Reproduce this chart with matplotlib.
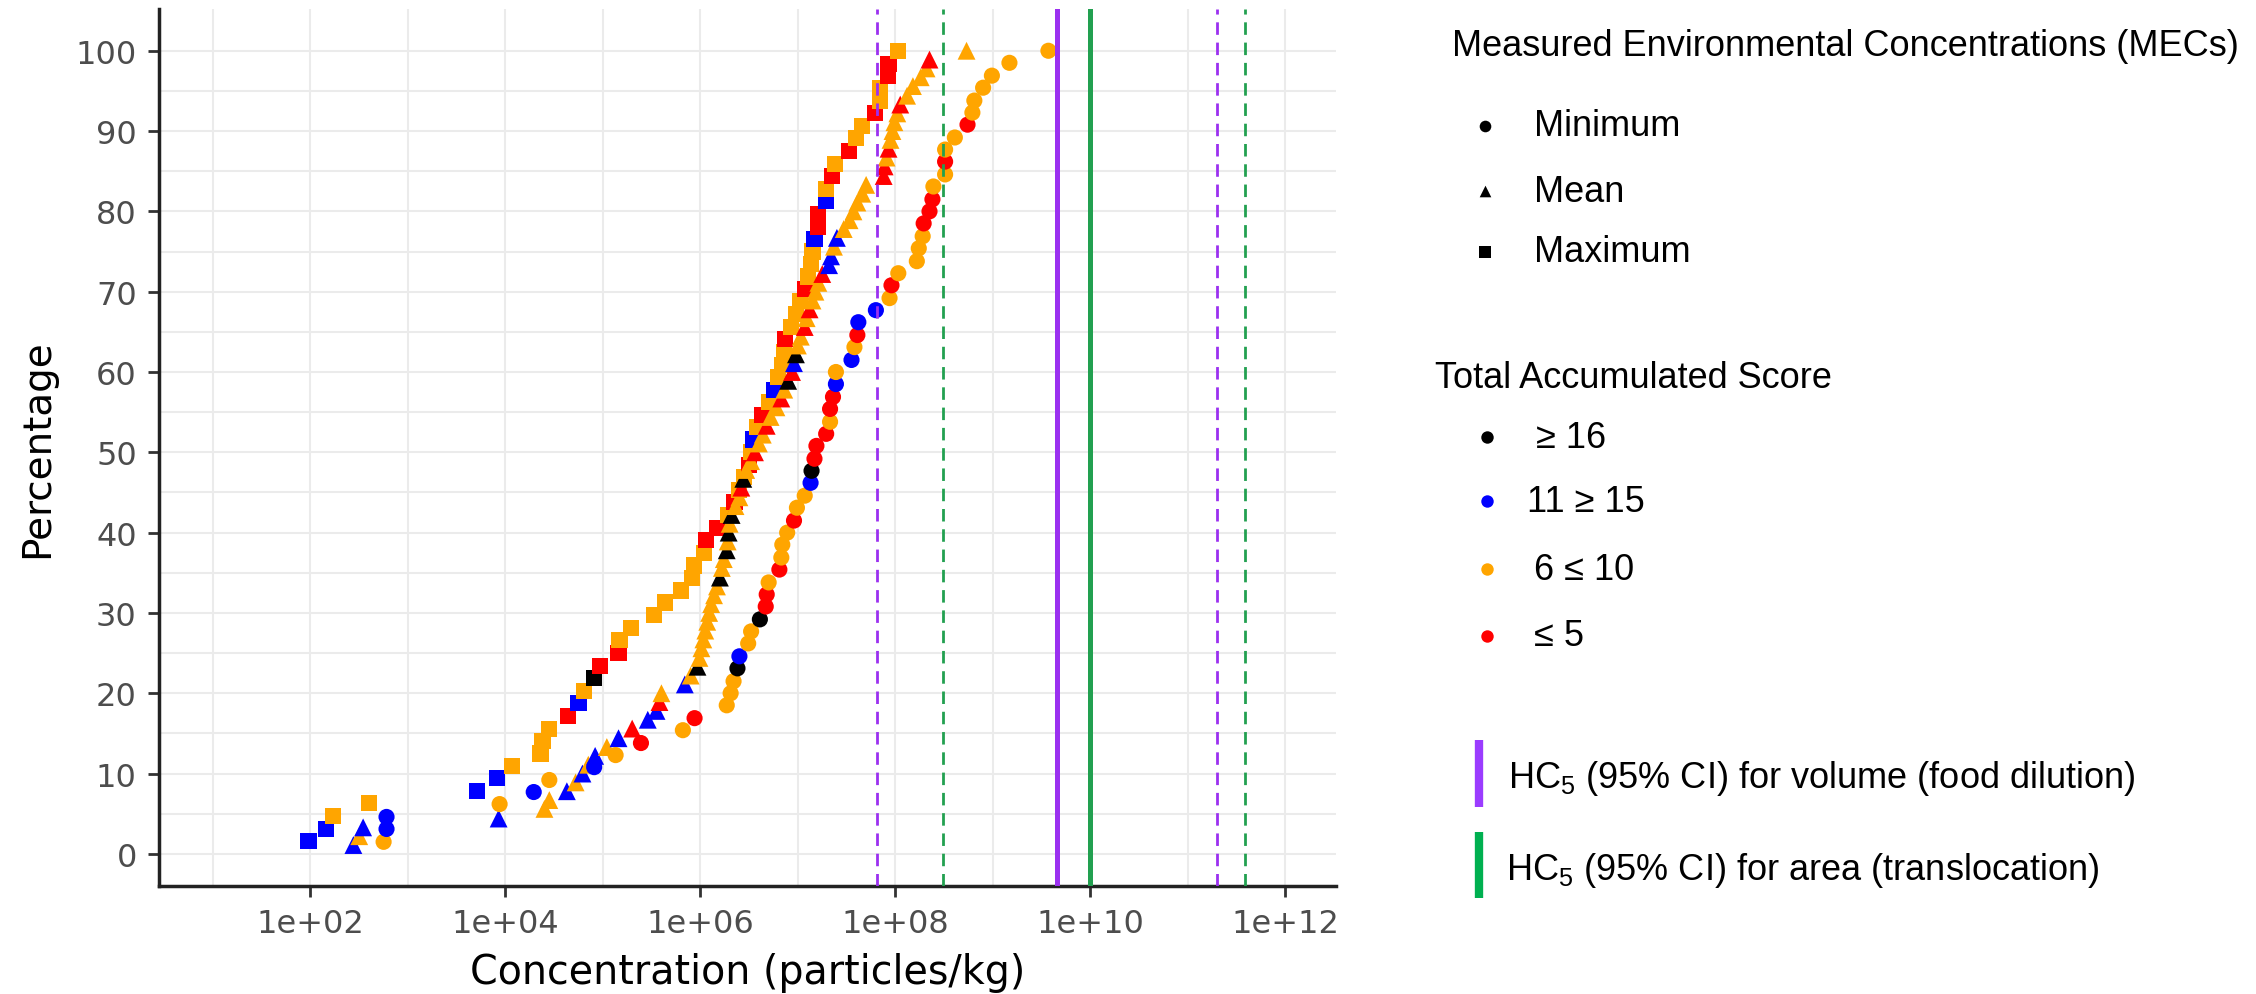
import numpy as np
import matplotlib.pyplot as plt
from matplotlib.ticker import NullFormatter

W, H = 2256, 995
DPI = 100

# score class colours
cls_col = {'k': 'black', 'b': '#0000FF', 'o': '#FFA500', 'r': '#FF0000'}

# Maximum MECs (squares): log10 concentration, cumulative %, score class
max_log = [1.98, 2.16, 2.23, 2.60, 3.71, 3.91, 4.07, 4.36, 4.38, 4.45,
           4.64, 4.75, 4.81, 4.91, 4.97, 5.16, 5.17, 5.29, 5.52, 5.64,
           5.80, 5.91, 5.93, 6.04, 6.06, 6.17, 6.28, 6.35, 6.40, 6.45,
           6.50, 6.52, 6.54, 6.58, 6.63, 6.70, 6.76, 6.80, 6.84, 6.86,
           6.87, 6.93, 6.98, 7.02, 7.07, 7.10, 7.13, 7.15, 7.17, 7.21,
           7.21, 7.29, 7.29, 7.35, 7.38, 7.52, 7.60, 7.66, 7.79, 7.84,
           7.84, 7.92, 7.93, 8.03]
max_pct = [1.6, 3.1, 4.7, 6.3, 7.8, 9.4, 10.9, 12.5, 14.1, 15.6,
           17.2, 18.8, 20.3, 21.9, 23.4, 25.0, 26.6, 28.1, 29.7, 31.3,
           32.8, 34.4, 35.9, 37.5, 39.1, 40.6, 42.2, 43.8, 45.3, 46.9,
           48.4, 50.0, 51.6, 53.1, 54.7, 56.3, 57.8, 59.4, 60.9, 62.5,
           64.1, 65.6, 67.2, 68.8, 70.3, 71.9, 73.4, 75.0, 76.6, 78.1,
           79.7, 81.3, 82.8, 84.4, 85.9, 87.5, 89.1, 90.6, 92.2, 93.8,
           95.3, 96.9, 98.4, 100.0]
max_cls = "bboobboooo" "rbokrroooo" "oooorroroo" "roborobooo" "rooorooobr" "rbororooro" "orro"

# Mean MECs (triangles)
mean_log = [2.44, 2.50, 2.54, 3.93, 4.40, 4.45, 4.63, 4.72, 4.79, 4.85,
            4.92, 5.04, 5.16, 5.30, 5.46, 5.55, 5.58, 5.60, 5.84, 5.90,
            5.97, 5.99, 6.01, 6.03, 6.05, 6.07, 6.09, 6.11, 6.14, 6.17,
            6.20, 6.22, 6.24, 6.27, 6.28, 6.29, 6.30, 6.32, 6.36, 6.40,
            6.42, 6.44, 6.47, 6.52, 6.56, 6.60, 6.64, 6.68, 6.72, 6.78,
            6.83, 6.86, 6.90, 6.94, 6.96, 6.98, 7.00, 7.03, 7.07, 7.09,
            7.12, 7.15, 7.18, 7.21, 7.25, 7.32, 7.34, 7.37, 7.40, 7.47,
            7.53, 7.57, 7.61, 7.66, 7.70, 7.88, 7.89, 7.91, 7.93, 7.95,
            7.97, 7.99, 8.02, 8.05, 8.12, 8.18, 8.26, 8.32, 8.35, 8.73]
mean_pct = [1.1, 2.2, 3.3, 4.4, 5.6, 6.7, 7.8, 8.9, 10.0, 11.1,
            12.2, 13.3, 14.4, 15.6, 16.7, 17.8, 18.9, 20.0, 21.1, 22.2,
            23.3, 24.4, 25.6, 26.7, 27.8, 28.9, 30.0, 31.1, 32.2, 33.3,
            34.4, 35.6, 36.7, 37.8, 38.9, 40.0, 41.1, 42.2, 43.3, 44.4,
            45.6, 46.7, 47.8, 48.9, 50.0, 51.1, 52.2, 53.3, 54.4, 55.6,
            56.7, 57.8, 58.9, 60.0, 61.1, 62.2, 63.3, 64.4, 65.6, 66.7,
            67.8, 68.9, 70.0, 71.1, 72.2, 73.3, 74.4, 75.6, 76.7, 77.8,
            78.9, 80.0, 81.1, 82.2, 83.3, 84.4, 85.6, 86.7, 87.8, 88.9,
            90.0, 91.1, 92.2, 93.3, 94.4, 95.6, 96.7, 97.8, 98.9, 100.0]
mean_cls = "bobboobobo" "bobrbbrobo" "kooooooooo" "kookokokoo" "rkoorooroo" "rokrbkooro" "rooorbbobo" "ooooorroro" "ooorooooro"

# Minimum MECs (circles)
min_log = [2.75, 2.78, 2.78, 3.94, 4.29, 4.45, 4.91, 5.13, 5.39, 5.82,
           5.94, 6.27, 6.31, 6.34, 6.38, 6.40, 6.49, 6.52, 6.61, 6.67,
           6.68, 6.70, 6.81, 6.83, 6.84, 6.89, 6.96, 6.99, 7.07, 7.13,
           7.14, 7.17, 7.19, 7.29, 7.33, 7.33, 7.36, 7.39, 7.39, 7.55,
           7.58, 7.61, 7.62, 7.80, 7.94, 7.96, 8.03, 8.22, 8.24, 8.28,
           8.29, 8.35, 8.38, 8.39, 8.51, 8.51, 8.51, 8.61, 8.74, 8.79,
           8.81, 8.90, 8.99, 9.17, 9.57]
min_pct = [1.5, 3.1, 4.6, 6.2, 7.7, 9.2, 10.8, 12.3, 13.8, 15.4,
           16.9, 18.5, 20.0, 21.5, 23.1, 24.6, 26.2, 27.7, 29.2, 30.8,
           32.3, 33.8, 35.4, 36.9, 38.5, 40.0, 41.5, 43.1, 44.6, 46.2,
           47.7, 49.2, 50.8, 52.3, 53.8, 55.4, 56.9, 58.5, 60.0, 61.5,
           63.1, 64.6, 66.2, 67.7, 69.2, 70.8, 72.3, 73.8, 75.4, 76.9,
           78.5, 80.0, 81.5, 83.1, 84.6, 86.2, 87.7, 89.2, 90.8, 92.3,
           93.8, 95.4, 96.9, 98.5, 100.0]
min_cls = "obboboboro" "roookbookr" "roroooroob" "krrrorrbob" "orbboroooo" "rrroorooro" "ooooo"

# HC5 thresholds (log10 particles/kg): estimate, lower CI, upper CI
hc5_volume = [9.66, 7.81, 11.30]
hc5_area = [10.0, 8.49, 11.585]

purple = '#9B30F0'
green = '#22A050'

fig = plt.figure(figsize=(W / DPI, H / DPI), dpi=DPI)
ax = fig.add_axes([159 / W, 1 - 887 / H, (1336 - 159) / W, (887 - 10) / H])

for lg, pc, cl, mk, sz in [(max_log, max_pct, max_cls, 's', 135),
                           (mean_log, mean_pct, mean_cls, '^', 165),
                           (min_log, min_pct, min_cls, 'o', 135)]:
    ax.scatter(10 ** np.array(lg), pc, c=[cls_col[c] for c in cl],
               marker=mk, s=sz, linewidths=0, zorder=3)

ax.axvline(10 ** hc5_volume[0], color=purple, lw=3.6, zorder=4)
ax.axvline(10 ** hc5_area[0], color=green, lw=3.6, zorder=4)
for v in hc5_volume[1:]:
    ax.axvline(10 ** v, color=purple, lw=2.0, dashes=(4.5, 2.8), zorder=4)
for v in hc5_area[1:]:
    ax.axvline(10 ** v, color=green, lw=2.0, dashes=(4.5, 2.8), zorder=4)

ax.set_xscale('log')
ax.set_xlim(10 ** 0.446, 10 ** 12.52)
ax.set_ylim(-4.0, 105.2)
xt = [1e2, 1e4, 1e6, 1e8, 1e10, 1e12]
ax.set_xticks(xt)
ax.set_xticklabels(['1e+%02d' % int(np.log10(v)) for v in xt])
ax.set_xticks([10.0 ** k for k in range(1, 13, 2)], minor=True)
ax.xaxis.set_minor_formatter(NullFormatter())
ax.set_yticks(range(0, 101, 10))
ax.set_yticks(range(5, 100, 10), minor=True)
ax.grid(which='both', color='#EBEBEB', lw=1.5, zorder=0)
ax.set_axisbelow(True)
ax.tick_params(which='minor', length=0)
ax.tick_params(which='major', length=8, width=2, color='#333333',
               labelsize=23, labelcolor='#4D4D4D', pad=8)
for s in ['top', 'right']:
    ax.spines[s].set_visible(False)
for s in ['left', 'bottom']:
    ax.spines[s].set_linewidth(2.5)
    ax.spines[s].set_color('#222222')

ax.set_xlabel('Concentration (particles/kg)', fontsize=28.5, va='center')
ax.xaxis.set_label_coords(0.5, -(973 - 887) / 877)
ax.set_ylabel('Percentage', fontsize=28, va='center')
ax.yaxis.set_label_coords(-(159 - 37) / 1177, 0.5)

# legend panel drawn in figure pixel coordinates
lax = fig.add_axes([0, 0, 1, 1])
lax.set_xlim(0, W)
lax.set_ylim(H, 0)
lax.axis('off')
lf = ['Liberation Sans', 'DejaVu Sans']
fs = 26

lax.text(1452, 47, 'Measured Environmental Concentrations (MECs)', fontsize=fs,
         family=lf, va='center', ha='left')
shape_items = [('o', 'Minimum', 127), ('^', 'Mean', 192), ('s', 'Maximum', 253)]
for mk, lab, yy in shape_items:
    lax.scatter([1485], [yy], marker=mk, s=70, c='black', linewidths=0)
    lax.text(1534, yy, lab, fontsize=fs, family=lf, va='center', ha='left')

lax.text(1435, 378, 'Total Accumulated Score', fontsize=fs, family=lf,
         va='center', ha='left')
score_items = [('k', '\u2265 16', 438, 1536), ('b', '11 \u2265 15', 502, 1527),
               ('o', '6 \u2264 10', 570, 1534), ('r', '\u2264 5', 637, 1534)]
for c, lab, yy, tx in score_items:
    lax.scatter([1487], [yy], marker='o', s=80, c=cls_col[c], linewidths=0)
    lax.text(tx, yy, lab, fontsize=fs, family=lf, va='center', ha='left')

lax.plot([1479, 1479], [741, 808], color='#9B3CFF', lw=6, solid_capstyle='butt')
lax.text(1508, 778, r'HC$_{\mathregular{5}}$ (95% CI) for volume (food dilution)',
         fontsize=fs, family=lf, va='center', ha='left')
lax.plot([1479, 1479], [833, 899], color='#00B050', lw=6, solid_capstyle='butt')
lax.text(1506, 870, r'HC$_{\mathregular{5}}$ (95% CI) for area (translocation)',
         fontsize=fs, family=lf, va='center', ha='left')

fig.savefig('out.png', dpi=DPI)
